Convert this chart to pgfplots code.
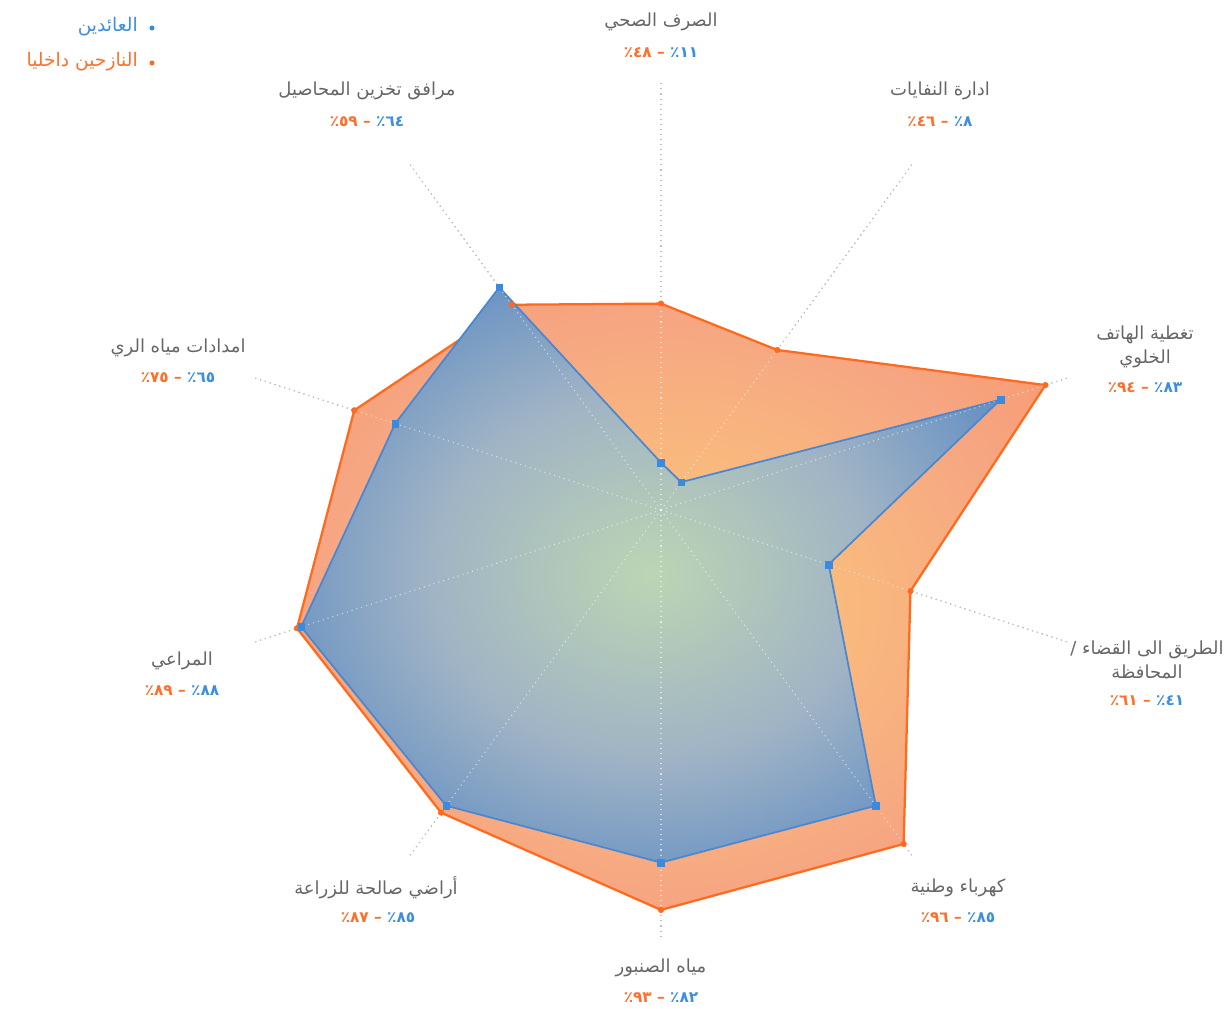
\documentclass[border=0pt]{standalone}
\usepackage{fontspec}
\usepackage{pgfplots}
\pgfplotsset{compat=1.18}
\setmainfont{DejaVu Sans}
\newfontfamily\ar[Script=Arabic]{DejaVu Sans}
\TeXXeTstate=1

\definecolor{cblue}{HTML}{4A87D0}
\definecolor{bmark}{HTML}{3A8BE0}
\definecolor{corange}{HTML}{FF6A1F}
\definecolor{oin}{HTML}{FCCB7A}
\definecolor{omid}{HTML}{F6A682}
\definecolor{oout}{HTML}{FA8858}
\definecolor{bin}{HTML}{BCD5B3}
\definecolor{bmid}{HTML}{A0B3C5}
\definecolor{bout}{HTML}{437CC2}
\definecolor{lab}{HTML}{666666}
\definecolor{bluetxt}{HTML}{3B8EE0}
\definecolor{orangetxt}{HTML}{FF6F2C}

\pgfdeclareradialshading{orangeglow}{\pgfpoint{0bp}{0bp}}{color(0bp)=(oin); color(24bp)=(omid); color(46bp)=(oout); color(50bp)=(oout)}
\pgfdeclareradialshading{blueglow}{\pgfpoint{0bp}{0bp}}{color(0bp)=(bin); color(16bp)=(bmid); color(36bp)=(bout); color(50bp)=(bout)}

% position relative to the chart centre, given in pixel-like units
\newcommand{\px}[2]{([shift={({(#1-661)*0.75pt},{(510-#2)*0.75pt})}]O)}
\newcommand{\ttl}[1]{\beginR #1\endR}
% value line: returnees on the right, displaced on the left
\newcommand{\vals}[2]{{\color{orangetxt}\beginR #2٪\endR}\ {\color{orangetxt}–}\ {\color{bluetxt}\beginR #1٪\endR}}

\tikzset{
  cattitle/.style={text=lab, font=\ar\fontsize{13.5}{17.5}\selectfont, align=center, inner sep=0pt},
  catval/.style={font=\ar\bfseries\fontsize{11.5}{13}\selectfont, inner sep=0pt},
  spoke/.style={dash pattern=on 0.8pt off 3pt, line width=0.8pt},
}

\begin{document}
\begin{tikzpicture}
\begin{axis}[
  x=3.225pt, y=3.225pt,
  xmin=-100, xmax=100, ymin=-100, ymax=100,
  hide axis, clip=false,
  data cs=polar,
]
\coordinate (O) at (axis cs:0,0);

% spokes, lower layer
\pgfplotsinvokeforeach{90,54,18,-18,-54,-90,-126,-162,-198,-234}{
  \addplot[spoke, color=black!62, forget plot] coordinates {(#1,0) (#1,100)};
}

% internally displaced persons
\addplot[draw=corange, line width=1.7pt, line join=round, shade, shading=orangeglow]
  coordinates {(90,48) (54,46) (18,94) (-18,61) (-54,96) (-90,93) (-126,87) (-162,89) (-198,75) (-234,59)} -- cycle;

% returnees
\addplot[draw=cblue, line width=1.3pt, line join=round, shade, shading=blueglow]
  coordinates {(90,11) (54,8) (18,83) (-18,41) (-54,85) (-90,82) (-126,85) (-162,88) (-198,65) (-234,64)} -- cycle;

% spokes, upper light layer
\pgfplotsinvokeforeach{90,54,18,-18,-54,-90,-126,-162,-198,-234}{
  \addplot[spoke, color=white, opacity=0.6, forget plot] coordinates {(#1,0) (#1,100)};
}

\addplot[only marks, mark=*, mark size=2.1pt, color=corange]
  coordinates {(90,48) (54,46) (18,94) (-18,61) (-54,96) (-90,93) (-126,87) (-162,89) (-198,75) (-234,59)};
\addplot[only marks, mark=square*, mark size=2.5pt, color=bmark]
  coordinates {(90,11) (54,8) (18,83) (-18,41) (-54,85) (-90,82) (-126,85) (-162,88) (-198,65) (-234,64)};
\end{axis}

% category labels
\node[cattitle] at \px{661}{22} {\ttl{الصرف الصحي}};
\node[catval]   at \px{661}{53} {\vals{١١}{٤٨}};

\node[cattitle] at \px{940}{91} {\ttl{ادارة النفايات}};
\node[catval]   at \px{940}{122} {\vals{٨}{٤٦}};

\node[cattitle] at \px{1145}{347} {\ttl{تغطية الهاتف}\\\ttl{الخلوي}};
\node[catval]   at \px{1145}{388} {\vals{٨٣}{٩٤}};

\node[cattitle] at \px{1147}{660} {\ttl{الطريق الى القضاء /}\\\ttl{المحافظة}};
\node[catval]   at \px{1147}{701} {\vals{٤١}{٦١}};

\node[cattitle] at \px{958}{888} {\ttl{كهرباء وطنية}};
\node[catval]   at \px{958}{918} {\vals{٨٥}{٩٦}};

\node[cattitle] at \px{661}{968} {\ttl{مياه الصنبور}};
\node[catval]   at \px{661}{998} {\vals{٨٢}{٩٣}};

\node[cattitle] at \px{376}{888} {\ttl{أراضي صالحة للزراعة}};
\node[catval]   at \px{378}{918} {\vals{٨٥}{٨٧}};

\node[cattitle] at \px{182}{661} {\ttl{المراعي}};
\node[catval]   at \px{182}{691} {\vals{٨٨}{٨٩}};

\node[cattitle] at \px{178}{348} {\ttl{امدادات مياه الري}};
\node[catval]   at \px{178}{378} {\vals{٦٥}{٧٥}};

\node[cattitle] at \px{367}{91} {\ttl{مرافق تخزين المحاصيل}};
\node[catval]   at \px{367}{122} {\vals{٦٤}{٥٩}};

% legend
\fill[bmark] \px{152}{28} circle (1.9pt);
\node[anchor=east, text=bluetxt, font=\ar\fontsize{14}{16}\selectfont, inner sep=0pt] at \px{138}{27} {\ttl{العائدين}};
\fill[corange] \px{152}{63} circle (1.9pt);
\node[anchor=east, text=orangetxt, font=\ar\fontsize{14}{16}\selectfont, inner sep=0pt] at \px{138}{62} {\ttl{النازحين داخليا}};

\pgfresetboundingbox
\path[use as bounding box] \px{0}{0} rectangle \px{1229}{1008};
\end{tikzpicture}
\end{document}
